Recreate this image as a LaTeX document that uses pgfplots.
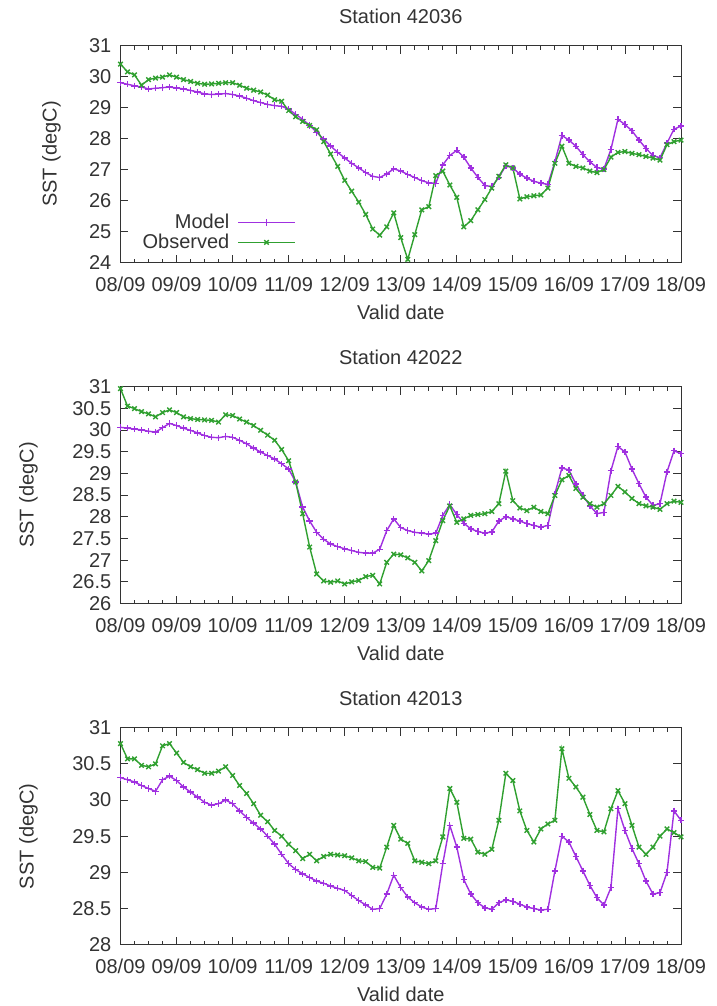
\documentclass[border=0pt]{standalone}
\usepackage{fontspec}
\setmainfont{Liberation Sans}
\usepackage{pgfplots}
\usepackage{pgfplotstable}
\pgfplotsset{compat=1.18}

\definecolor{model}{HTML}{A030E0}
\definecolor{obs}{HTML}{30A030}
\definecolor{ink}{HTML}{333333}

% t (days since 08/09), model, observed
\pgfplotstableread{
t model obs
0 29.80 30.40
0.125 29.75 30.15
0.25 29.70 30.05
0.375 29.66 29.72
0.5 29.60 29.90
0.625 29.62 29.95
0.75 29.64 29.98
0.875 29.66 30.05
1 29.63 29.98
1.125 29.60 29.90
1.25 29.55 29.84
1.375 29.50 29.78
1.5 29.44 29.75
1.625 29.42 29.76
1.75 29.43 29.78
1.875 29.45 29.80
2 29.42 29.80
2.125 29.37 29.72
2.25 29.30 29.62
2.375 29.22 29.56
2.5 29.16 29.50
2.625 29.10 29.40
2.75 29.06 29.25
2.875 29.04 29.20
3 28.95 28.90
3.125 28.78 28.70
3.25 28.62 28.55
3.375 28.42 28.42
3.5 28.20 28.28
3.625 27.98 27.90
3.75 27.76 27.50
3.875 27.55 27.10
4 27.37 26.65
4.125 27.20 26.30
4.25 27.05 25.95
4.375 26.90 25.55
4.5 26.78 25.08
4.625 26.74 24.88
4.75 26.86 25.15
4.875 27.02 25.60
5 26.95 24.80
5.125 26.84 24.10
5.25 26.74 24.90
5.375 26.64 25.70
5.5 26.57 25.80
5.625 26.55 26.80
5.75 27.15 26.95
5.875 27.45 26.50
6 27.62 26.10
6.125 27.40 25.15
6.25 27.05 25.35
6.375 26.75 25.70
6.5 26.48 26.03
6.625 26.45 26.40
6.75 26.75 26.78
6.875 27.12 27.15
7 27.05 27.05
7.125 26.85 26.05
7.25 26.72 26.12
7.375 26.62 26.15
7.5 26.56 26.18
7.625 26.52 26.40
7.75 27.25 27.20
7.875 28.10 27.75
8 27.95 27.20
8.125 27.75 27.10
8.25 27.48 27.05
8.375 27.25 26.95
8.5 27.06 26.90
8.625 27.02 27.00
8.75 27.65 27.40
8.875 28.62 27.55
9 28.45 27.58
9.125 28.25 27.52
9.25 27.95 27.48
9.375 27.68 27.42
9.5 27.45 27.37
9.625 27.38 27.30
9.75 27.85 27.80
9.875 28.30 27.90
10 28.40 27.95
}\stA

\pgfplotstableread{
t model obs
0 30.06 30.95
0.125 30.04 30.55
0.25 30.02 30.49
0.375 30.00 30.42
0.5 29.97 30.37
0.625 29.95 30.30
0.75 30.05 30.40
0.875 30.15 30.46
1 30.10 30.40
1.125 30.04 30.30
1.25 29.99 30.26
1.375 29.93 30.24
1.5 29.87 30.23
1.625 29.83 30.22
1.75 29.82 30.18
1.875 29.85 30.35
2 29.83 30.33
2.125 29.76 30.25
2.25 29.68 30.18
2.375 29.58 30.10
2.5 29.49 29.99
2.625 29.41 29.88
2.75 29.33 29.76
2.875 29.22 29.55
3 29.10 29.29
3.125 28.80 28.80
3.25 28.22 28.07
3.375 27.90 27.30
3.5 27.64 26.68
3.625 27.48 26.52
3.75 27.37 26.49
3.875 27.31 26.52
4 27.26 26.45
4.125 27.22 26.50
4.25 27.18 26.53
4.375 27.16 26.62
4.5 27.16 26.65
4.625 27.25 26.45
4.75 27.68 26.95
4.875 27.95 27.14
5 27.75 27.12
5.125 27.68 27.05
5.25 27.64 26.95
5.375 27.62 26.75
5.5 27.60 26.99
5.625 27.62 27.45
5.75 28.03 27.91
5.875 28.28 28.25
6 28.05 27.87
6.125 27.85 27.95
6.25 27.72 28.03
6.375 27.66 28.05
6.5 27.62 28.07
6.625 27.65 28.12
6.75 27.90 28.30
6.875 28.00 29.05
7 27.95 28.37
7.125 27.90 28.20
7.25 27.84 28.14
7.375 27.80 28.22
7.5 27.76 28.12
7.625 27.80 28.07
7.75 28.53 28.49
7.875 29.12 28.85
8 29.08 28.95
8.125 28.75 28.65
8.25 28.49 28.45
8.375 28.25 28.30
8.5 28.07 28.22
8.625 28.10 28.30
8.75 29.06 28.49
8.875 29.62 28.70
9 29.49 28.57
9.125 29.10 28.42
9.25 28.76 28.30
9.375 28.45 28.25
9.5 28.26 28.22
9.625 28.30 28.17
9.75 29.03 28.30
9.875 29.52 28.36
10 29.45 28.33
}\stB

\pgfplotstableread{
t model obs
0 30.31 30.78
0.125 30.28 30.57
0.25 30.25 30.57
0.375 30.20 30.48
0.5 30.16 30.46
0.625 30.12 30.50
0.75 30.28 30.75
0.875 30.33 30.78
1 30.27 30.65
1.125 30.18 30.52
1.25 30.11 30.46
1.375 30.04 30.42
1.5 29.97 30.37
1.625 29.93 30.37
1.75 29.95 30.40
1.875 30.00 30.46
2 29.95 30.34
2.125 29.85 30.20
2.25 29.76 30.09
2.375 29.68 29.95
2.5 29.60 29.79
2.625 29.50 29.70
2.75 29.39 29.58
2.875 29.25 29.50
3 29.12 29.39
3.125 29.04 29.30
3.25 28.98 29.19
3.375 28.93 29.25
3.5 28.88 29.16
3.625 28.85 29.22
3.75 28.81 29.25
3.875 28.78 29.24
4 28.75 29.23
4.125 28.68 29.20
4.25 28.61 29.16
4.375 28.55 29.15
4.5 28.49 29.07
4.625 28.50 29.06
4.75 28.70 29.35
4.875 28.96 29.65
5 28.79 29.46
5.125 28.66 29.40
5.25 28.58 29.16
5.375 28.52 29.14
5.5 28.49 29.12
5.625 28.50 29.16
5.75 29.12 29.49
5.875 29.65 30.16
6 29.35 29.97
6.125 28.90 29.47
6.25 28.70 29.46
6.375 28.58 29.28
6.5 28.51 29.25
6.625 28.49 29.32
6.75 28.58 29.72
6.875 28.62 30.37
7 28.60 30.27
7.125 28.56 29.85
7.25 28.52 29.58
7.375 28.50 29.42
7.5 28.48 29.60
7.625 28.49 29.67
7.75 29.02 29.72
7.875 29.50 30.71
8 29.42 30.30
8.125 29.22 30.18
8.25 29.02 30.04
8.375 28.82 29.80
8.5 28.65 29.58
8.625 28.55 29.56
8.75 28.79 29.88
8.875 29.88 30.13
9 29.58 29.95
9.125 29.33 29.65
9.25 29.12 29.35
9.375 28.88 29.25
9.5 28.70 29.35
9.625 28.72 29.50
9.75 29.00 29.60
9.875 29.85 29.55
10 29.72 29.49
}\stC

\pgfplotsset{
  sst/.style={
    scale only axis, width=560.5bp, height=217bp,
    xmin=0, xmax=10,
    xtick={0,1,...,10},
    xticklabels={08/09,09/09,10/09,11/09,12/09,13/09,14/09,15/09,16/09,17/09,18/09},
    minor x tick num=3,
    tick align=inside,
    major tick length=8bp, minor tick length=4bp,
    axis line style={ink, line width=1bp},
    every tick/.style={ink, line width=0.8bp},
    /pgf/number format/assume math mode=true,
    ticklabel style={inner sep=0pt, text=ink},
    xticklabel style={anchor=base, yshift=-29bp},
    yticklabel style={anchor=east, xshift=-9bp},
    xlabel={Valid date},
    xlabel style={at={(axis description cs:0.5,0)}, anchor=base, yshift=-57bp, text=ink, inner sep=0pt},
    ylabel={SST (degC)},
    title style={at={(axis description cs:0.5,1)}, anchor=base, yshift=16bp, text=ink, inner sep=0pt},
    model/.style={color=model, line width=1.4bp, mark=+, mark size=3.2bp},
    obs/.style={color=obs, line width=1.4bp, mark=x, mark size=3.2bp},
  },
}

\begin{document}
\begin{tikzpicture}[font=\fontsize{20bp}{24bp}\selectfont]
\useasboundingbox (0,0) rectangle (717bp,-1006bp);

\begin{axis}[sst,
    at={(120.5bp,-45.5bp)}, anchor=north west,
    title={Station 42036},
    ymin=24, ymax=31, ytick={24,25,...,31},
    ylabel style={at={([xshift=-69bp]axis description cs:0,0.5)}, anchor=center, text=ink, inner sep=0pt},
    legend style={draw=none, fill=none, at={(0.313,0.046)}, anchor=south east,
      legend plot pos=right, legend cell align=right, inner sep=0pt,
      nodes={inner sep=2bp, text=ink}, column sep=6bp, row sep=0pt},
    legend image code/.code={\draw[mark repeat=2, mark phase=2, #1]
      plot coordinates {(0bp,0bp) (28.5bp,0bp) (57bp,0bp)};},
]
\addplot[model] table[x=t, y=model] {\stA};
\addlegendentry{Model}
\addplot[obs] table[x=t, y=obs] {\stA};
\addlegendentry{Observed}
\end{axis}

\begin{axis}[sst,
    at={(120.5bp,-386.5bp)}, anchor=north west,
    title={Station 42022},
    ymin=26, ymax=31, ytick={26,26.5,...,31},
    ylabel style={at={([xshift=-92bp]axis description cs:0,0.5)}, anchor=center, text=ink, inner sep=0pt},
]
\addplot[model] table[x=t, y=model] {\stB};
\addplot[obs] table[x=t, y=obs] {\stB};
\end{axis}

\begin{axis}[sst,
    at={(120.5bp,-727.7bp)}, anchor=north west,
    title={Station 42013},
    ymin=28, ymax=31, ytick={28,28.5,...,31},
    ylabel style={at={([xshift=-92bp]axis description cs:0,0.5)}, anchor=center, text=ink, inner sep=0pt},
]
\addplot[model] table[x=t, y=model] {\stC};
\addplot[obs] table[x=t, y=obs] {\stC};
\end{axis}
\end{tikzpicture}
\end{document}
